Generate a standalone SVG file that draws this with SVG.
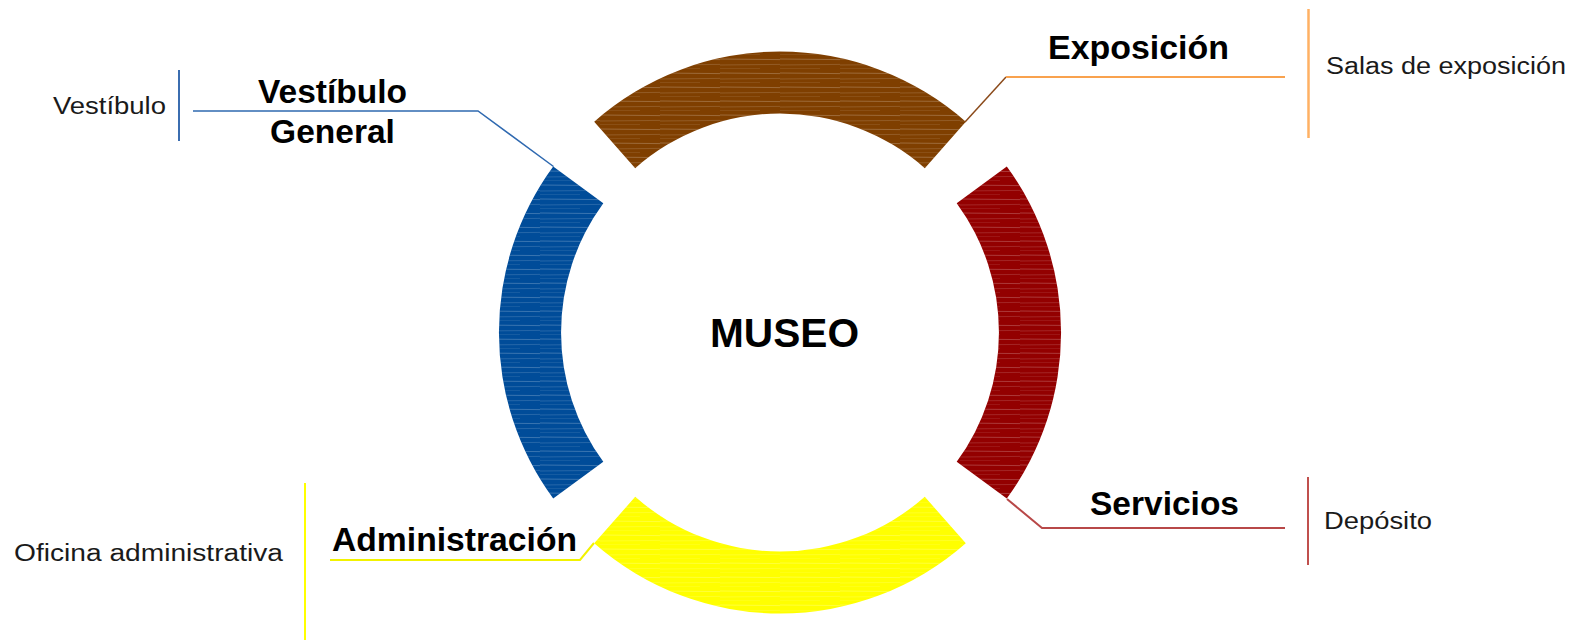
<svg xmlns="http://www.w3.org/2000/svg" width="1576" height="641" viewBox="0 0 1576 641">
<style>
.bold{font-family:"Liberation Sans",Arial,sans-serif;font-weight:bold;font-size:33.5px;fill:#000}
.reg{font-family:"Liberation Sans",Arial,sans-serif;font-size:23px;fill:#1a1a1a}
.ln{fill:none;stroke-linecap:butt;stroke-linejoin:miter}
.hatch{fill:url(#hatch)}
</style>
<defs>
<pattern id="hatch" width="60" height="14" patternUnits="userSpaceOnUse">
<line x1="0" y1="3" x2="60" y2="3.6" stroke="#fff" stroke-opacity="0.28" stroke-width="0.8"/>
<line x1="0" y1="9" x2="60" y2="8.4" stroke="#fff" stroke-opacity="0.18" stroke-width="0.8"/>
<line x1="0" y1="12.5" x2="40" y2="12.5" stroke="#fff" stroke-opacity="0.12" stroke-width="0.7"/>
</pattern>
</defs>
<rect width="1576" height="641" fill="#fff"/>

<g id="connectors">
<polyline class="ln" points="193,111 478,111 553.5,166.5" stroke="#2F69B0" stroke-width="1.5"/>
<line x1="179" y1="70" x2="179" y2="141" stroke="#3B6DB0" stroke-width="2"/>
<line x1="965" y1="122" x2="1006" y2="77" stroke="#8B4A1A" stroke-width="1.5"/>
<line x1="1006" y1="77" x2="1285" y2="77" stroke="#F9A24E" stroke-width="2"/>
<line x1="1308.5" y1="9" x2="1308.5" y2="138" stroke="#FFB163" stroke-width="2.5"/>
<polyline class="ln" points="1007,499 1042,528 1285,528" stroke="#B84848" stroke-width="2"/>
<line x1="1308" y1="477" x2="1308" y2="565" stroke="#C0504D" stroke-width="2"/>
<polyline class="ln" points="594,543 580,560 330,560" stroke="#F2F200" stroke-width="2"/>
<line x1="305" y1="483" x2="305" y2="640" stroke="#FFFF00" stroke-width="2"/>
</g>

<g id="node-exposicion">
<path d="M594.2,121.7 A281,281 0 0 1 965.8,121.7 L924.8,168.2 A219,219 0 0 0 635.2,168.2 Z" fill="#7F3F00"/>
<path d="M594.2,121.7 A281,281 0 0 1 965.8,121.7 L924.8,168.2 A219,219 0 0 0 635.2,168.2 Z" class="hatch"/>
<text class="bold" x="1048" y="59" textLength="181" lengthAdjust="spacingAndGlyphs">Exposición</text>
<text class="reg" x="1326" y="74" textLength="240" lengthAdjust="spacingAndGlyphs">Salas de exposición</text>
</g>

<g id="node-vestibulo">
<path d="M553.2,166.5 A281,281 0 0 0 553.2,498.5 L603.3,461.8 A219,219 0 0 1 603.3,203.2 Z" fill="#004C99"/>
<path d="M553.2,166.5 A281,281 0 0 0 553.2,498.5 L603.3,461.8 A219,219 0 0 1 603.3,203.2 Z" class="hatch"/>
<text class="bold" x="332.5" y="103" text-anchor="middle">Vestíbulo</text>
<text class="bold" x="332.5" y="143" text-anchor="middle">General</text>
<text class="reg" x="53" y="114" textLength="113" lengthAdjust="spacingAndGlyphs">Vestíbulo</text>
</g>

<g id="node-servicios">
<path d="M1006.8,166.5 A281,281 0 0 1 1006.8,498.5 L956.7,461.8 A219,219 0 0 0 956.7,203.2 Z" fill="#930000"/>
<path d="M1006.8,166.5 A281,281 0 0 1 1006.8,498.5 L956.7,461.8 A219,219 0 0 0 956.7,203.2 Z" class="hatch"/>
<text class="bold" x="1090" y="515" textLength="149" lengthAdjust="spacingAndGlyphs">Servicios</text>
<text class="reg" x="1324" y="529" textLength="108" lengthAdjust="spacingAndGlyphs">Depósito</text>
</g>

<g id="node-administracion">
<path d="M594.2,543.3 A281,281 0 0 0 965.8,543.3 L924.8,496.8 A219,219 0 0 1 635.2,496.8 Z" fill="#FFFF00"/>
<path d="M594.2,543.3 A281,281 0 0 0 965.8,543.3 L924.8,496.8 A219,219 0 0 1 635.2,496.8 Z" class="hatch"/>
<text class="bold" x="332" y="551" textLength="245" lengthAdjust="spacingAndGlyphs">Administración</text>
<text class="reg" x="14" y="561" textLength="269" lengthAdjust="spacingAndGlyphs">Oficina administrativa</text>
</g>

<g id="node-museo">
<text class="bold" x="710" y="347" style="font-size:41px" textLength="149" lengthAdjust="spacingAndGlyphs">MUSEO</text>
</g>
</svg>
